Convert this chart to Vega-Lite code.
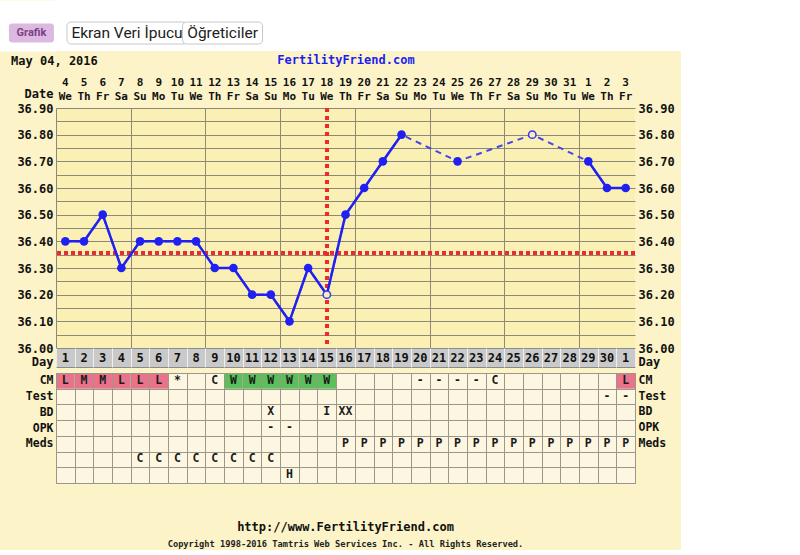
{
  "$schema": "https://vega.github.io/schema/vega-lite/v6.json",
  "background": "#fcf4c8",
  "padding": {"left": 8, "top": 0, "right": 0, "bottom": 0},
  "autosize": {"type": "pad"},
  "config": {
    "view": {"stroke": null},
    "font": "DejaVu Sans Mono",
    "axis": {"labelFont": "DejaVu Sans Mono", "titleFont": "DejaVu Sans Mono", "labelFontWeight": "bold", "titleFontWeight": "bold", "labelColor": "#111", "titleColor": "#111", "labelFontSize": 12, "titleFontSize": 12, "ticks": false, "domain": false, "labelOverlap": false, "gridOpacity": 1, "gridWidth": 1}
  },
  "datasets": {
    "days": [
      {"day": 1, "date": "4", "dow": "We", "cd": 1, "temp": 36.40, "seg": "a", "open": false},
      {"day": 2, "date": "5", "dow": "Th", "cd": 2, "temp": 36.40, "seg": "a", "open": false},
      {"day": 3, "date": "6", "dow": "Fr", "cd": 3, "temp": 36.50, "seg": "a", "open": false},
      {"day": 4, "date": "7", "dow": "Sa", "cd": 4, "temp": 36.30, "seg": "a", "open": false},
      {"day": 5, "date": "8", "dow": "Su", "cd": 5, "temp": 36.40, "seg": "a", "open": false},
      {"day": 6, "date": "9", "dow": "Mo", "cd": 6, "temp": 36.40, "seg": "a", "open": false},
      {"day": 7, "date": "10", "dow": "Tu", "cd": 7, "temp": 36.40, "seg": "a", "open": false},
      {"day": 8, "date": "11", "dow": "We", "cd": 8, "temp": 36.40, "seg": "a", "open": false},
      {"day": 9, "date": "12", "dow": "Th", "cd": 9, "temp": 36.30, "seg": "a", "open": false},
      {"day": 10, "date": "13", "dow": "Fr", "cd": 10, "temp": 36.30, "seg": "a", "open": false},
      {"day": 11, "date": "14", "dow": "Sa", "cd": 11, "temp": 36.20, "seg": "a", "open": false},
      {"day": 12, "date": "15", "dow": "Su", "cd": 12, "temp": 36.20, "seg": "a", "open": false},
      {"day": 13, "date": "16", "dow": "Mo", "cd": 13, "temp": 36.10, "seg": "a", "open": false},
      {"day": 14, "date": "17", "dow": "Tu", "cd": 14, "temp": 36.30, "seg": "a", "open": false},
      {"day": 15, "date": "18", "dow": "We", "cd": 15, "temp": 36.20, "seg": "a", "open": true},
      {"day": 16, "date": "19", "dow": "Th", "cd": 16, "temp": 36.50, "seg": "a", "open": false},
      {"day": 17, "date": "20", "dow": "Fr", "cd": 17, "temp": 36.60, "seg": "a", "open": false},
      {"day": 18, "date": "21", "dow": "Sa", "cd": 18, "temp": 36.70, "seg": "a", "open": false},
      {"day": 19, "date": "22", "dow": "Su", "cd": 19, "temp": 36.80, "seg": "a", "open": false},
      {"day": 20, "date": "23", "dow": "Mo", "cd": 20, "temp": null, "seg": null, "open": false},
      {"day": 21, "date": "24", "dow": "Tu", "cd": 21, "temp": null, "seg": null, "open": false},
      {"day": 22, "date": "25", "dow": "We", "cd": 22, "temp": 36.70, "seg": null, "open": false},
      {"day": 23, "date": "26", "dow": "Th", "cd": 23, "temp": null, "seg": null, "open": false},
      {"day": 24, "date": "27", "dow": "Fr", "cd": 24, "temp": null, "seg": null, "open": false},
      {"day": 25, "date": "28", "dow": "Sa", "cd": 25, "temp": null, "seg": null, "open": false},
      {"day": 26, "date": "29", "dow": "Su", "cd": 26, "temp": 36.80, "seg": null, "open": true},
      {"day": 27, "date": "30", "dow": "Mo", "cd": 27, "temp": null, "seg": null, "open": false},
      {"day": 28, "date": "31", "dow": "Tu", "cd": 28, "temp": null, "seg": null, "open": false},
      {"day": 29, "date": "1", "dow": "We", "cd": 29, "temp": 36.70, "seg": "b", "open": false},
      {"day": 30, "date": "2", "dow": "Th", "cd": 30, "temp": 36.60, "seg": "b", "open": false},
      {"day": 31, "date": "3", "dow": "Fr", "cd": 1, "temp": 36.60, "seg": "b", "open": false}
    ],
    "cells": [
      {"day": 1, "row": "CM", "code": "L", "kind": "menses"},
      {"day": 2, "row": "CM", "code": "M", "kind": "menses"},
      {"day": 3, "row": "CM", "code": "M", "kind": "menses"},
      {"day": 4, "row": "CM", "code": "L", "kind": "menses"},
      {"day": 5, "row": "CM", "code": "L", "kind": "menses"},
      {"day": 6, "row": "CM", "code": "L", "kind": "menses"},
      {"day": 7, "row": "CM", "code": "*", "kind": null},
      {"day": 9, "row": "CM", "code": "C", "kind": null},
      {"day": 10, "row": "CM", "code": "W", "kind": "fertile"},
      {"day": 11, "row": "CM", "code": "W", "kind": "fertile"},
      {"day": 12, "row": "CM", "code": "W", "kind": "fertile"},
      {"day": 13, "row": "CM", "code": "W", "kind": "fertile"},
      {"day": 14, "row": "CM", "code": "W", "kind": "fertile"},
      {"day": 15, "row": "CM", "code": "W", "kind": "fertile"},
      {"day": 20, "row": "CM", "code": "-", "kind": null},
      {"day": 21, "row": "CM", "code": "-", "kind": null},
      {"day": 22, "row": "CM", "code": "-", "kind": null},
      {"day": 23, "row": "CM", "code": "-", "kind": null},
      {"day": 24, "row": "CM", "code": "C", "kind": null},
      {"day": 31, "row": "CM", "code": "L", "kind": "menses"},
      {"day": 30, "row": "Test", "code": "-", "kind": null},
      {"day": 31, "row": "Test", "code": "-", "kind": null},
      {"day": 12, "row": "BD", "code": "X", "kind": null},
      {"day": 15, "row": "BD", "code": "I", "kind": null},
      {"day": 16, "row": "BD", "code": "XX", "kind": null},
      {"day": 12, "row": "OPK", "code": "-", "kind": null},
      {"day": 13, "row": "OPK", "code": "-", "kind": null},
      {"day": 16, "row": "Meds", "code": "P", "kind": null},
      {"day": 17, "row": "Meds", "code": "P", "kind": null},
      {"day": 18, "row": "Meds", "code": "P", "kind": null},
      {"day": 19, "row": "Meds", "code": "P", "kind": null},
      {"day": 20, "row": "Meds", "code": "P", "kind": null},
      {"day": 21, "row": "Meds", "code": "P", "kind": null},
      {"day": 22, "row": "Meds", "code": "P", "kind": null},
      {"day": 23, "row": "Meds", "code": "P", "kind": null},
      {"day": 24, "row": "Meds", "code": "P", "kind": null},
      {"day": 25, "row": "Meds", "code": "P", "kind": null},
      {"day": 26, "row": "Meds", "code": "P", "kind": null},
      {"day": 27, "row": "Meds", "code": "P", "kind": null},
      {"day": 28, "row": "Meds", "code": "P", "kind": null},
      {"day": 29, "row": "Meds", "code": "P", "kind": null},
      {"day": 30, "row": "Meds", "code": "P", "kind": null},
      {"day": 31, "row": "Meds", "code": "P", "kind": null},
      {"day": 5, "row": "Extra1", "code": "C", "kind": null},
      {"day": 6, "row": "Extra1", "code": "C", "kind": null},
      {"day": 7, "row": "Extra1", "code": "C", "kind": null},
      {"day": 8, "row": "Extra1", "code": "C", "kind": null},
      {"day": 9, "row": "Extra1", "code": "C", "kind": null},
      {"day": 10, "row": "Extra1", "code": "C", "kind": null},
      {"day": 11, "row": "Extra1", "code": "C", "kind": null},
      {"day": 12, "row": "Extra1", "code": "C", "kind": null},
      {"day": 13, "row": "Extra2", "code": "H", "kind": null}
    ]
  },
  "vconcat": [
    {
      "width": 625,
      "height": 51,
      "view": {"fill": "white", "stroke": null},
      "data": {"values": [{"btn": "Grafik"}, {"btn": "Ekran Veri İpucu"}, {"btn": "Öğreticiler"}]},
      "encoding": {
        "x": {"field": "btn", "type": "nominal", "sort": null, "axis": null, "scale": {"paddingInner": 0.3, "paddingOuter": 0, "range": [-58, 200]}},
        "y": {"datum": "bar", "type": "nominal", "scale": {"paddingInner": 0, "paddingOuter": 0.66, "align": 0.76}, "axis": {"orient": "left", "labels": false, "title": null, "grid": false, "domain": true, "domainColor": "white", "domainWidth": 58, "offset": 29, "zindex": 0}}
      },
      "layer": [
        {"transform": [{"filter": "datum.btn == 'Grafik'"}], "mark": {"type": "rect", "width": 45, "height": 19, "cornerRadius": 3, "fill": "#dcb9e0"}},
        {"transform": [{"filter": "datum.btn == 'Ekran Veri İpucu'"}], "mark": {"type": "rect", "width": 120, "height": 22, "cornerRadius": 4, "fill": "white", "stroke": "#c8c8c8", "strokeWidth": 1}},
        {"transform": [{"filter": "datum.btn == 'Öğreticiler'"}], "mark": {"type": "rect", "width": 80, "height": 22, "cornerRadius": 4, "fill": "white", "stroke": "#c8c8c8", "strokeWidth": 1}},
        {"transform": [{"filter": "datum.btn == 'Grafik'"}], "mark": {"type": "text", "font": "Roboto", "fontSize": 11, "fontWeight": "bold", "color": "#7b3f86"}, "encoding": {"text": {"field": "btn"}}},
        {"transform": [{"filter": "datum.btn != 'Grafik'"}], "mark": {"type": "text", "font": "Roboto", "fontSize": 15.5, "color": "#222"}, "encoding": {"text": {"field": "btn"}}}
      ]
    },
    {
      "vconcat": [
        {
          "vconcat": [
            {
              "width": 579,
              "height": 30,
              "data": {"name": "days"},
              "transform": [{"fold": ["date", "dow"], "as": ["row", "label"]}],
              "title": {"text": "May 04, 2016", "anchor": "start", "frame": "bounds", "offset": -15, "dx": -13, "font": "DejaVu Sans Mono", "fontSize": 12, "fontWeight": "bold", "color": "#111"},
              "mark": {"type": "text", "font": "DejaVu Sans Mono", "fontSize": 11, "fontWeight": "bold", "color": "#111"},
              "encoding": {
                "x": {"field": "day", "type": "ordinal", "scale": {"paddingInner": 0, "paddingOuter": 0}, "axis": {"orient": "top", "labels": false, "grid": false, "title": "FertilityFriend.com", "titleColor": "#1c1cf0", "titlePadding": 12}},
                "y": {"field": "row", "type": "nominal", "sort": ["date", "dow"], "scale": {"padding": 0.611, "align": 0.303}, "axis": {"labels": false, "grid": false, "title": "Date", "titleAngle": 0, "titleAlign": "right", "titleBaseline": "middle", "titlePadding": 3}},
                "text": {"field": "label"}
              }
            },
            {
              "width": 579,
              "height": 240,
              "view": {"fill": "#faf0b3", "stroke": null},
              "data": {"name": "days"},
              "layer": [
                {
                  "mark": {"type": "rule", "color": "#ee2a2a", "strokeWidth": 3, "strokeDash": [4, 3]},
                  "encoding": {"y": {"datum": 36.355, "type": "quantitative", "scale": {"domain": [36.0, 36.9], "nice": false, "zero": false}, "axis": {"orient": "left", "values": [36.0, 36.05, 36.1, 36.15, 36.2, 36.25, 36.3, 36.35, 36.4, 36.45, 36.5, 36.55, 36.6, 36.65, 36.7, 36.75, 36.8, 36.85, 36.9], "grid": true, "gridColor": "#8f8777", "labelExpr": "(round(datum.value*100) % 10 == 0) ? format(datum.value, '.2f') : ''", "labelPadding": 3, "title": null}}}
                },
                {
                  "mark": {"type": "rule", "color": "#ee2a2a", "strokeWidth": 3, "strokeDash": [4, 4]},
                  "encoding": {"x": {"datum": 15, "type": "quantitative", "scale": {"domain": [0.5, 31.5], "nice": false, "zero": false}, "axis": {"orient": "bottom", "values": [0.5, 1.5, 2.5, 3.5, 4.5, 5.5, 6.5, 7.5, 8.5, 9.5, 10.5, 11.5, 12.5, 13.5, 14.5, 15.5, 16.5, 17.5, 18.5, 19.5, 20.5, 21.5, 22.5, 23.5, 24.5, 25.5, 26.5, 27.5, 28.5, 29.5, 30.5, 31.5], "grid": true, "gridColor": "#8f8777", "labels": false, "title": null}}}
                },
                {
                  "transform": [{"filter": "datum.temp != null"}],
                  "mark": {"type": "line", "color": "#4646e6", "strokeWidth": 2, "strokeDash": [6, 5]},
                  "encoding": {
                    "x": {"field": "day", "type": "quantitative"},
                    "y": {"field": "temp", "type": "quantitative", "scale": {"domain": [36.0, 36.9], "nice": false, "zero": false}, "axis": {"orient": "right", "values": [36.0, 36.1, 36.2, 36.3, 36.4, 36.5, 36.6, 36.7, 36.8, 36.9], "format": ".2f", "grid": false, "labelPadding": 3, "title": null}}
                  }
                },
                {
                  "transform": [{"filter": "datum.seg != null"}],
                  "mark": {"type": "line", "color": "#2020f2", "strokeWidth": 2.5},
                  "encoding": {"x": {"field": "day", "type": "quantitative"}, "y": {"field": "temp", "type": "quantitative", "axis": null}, "detail": {"field": "seg"}}
                },
                {
                  "transform": [{"filter": "datum.temp != null && !datum.open"}],
                  "mark": {"type": "point", "filled": true, "color": "#2020f2", "size": 75, "opacity": 1},
                  "encoding": {"x": {"field": "day", "type": "quantitative"}, "y": {"field": "temp", "type": "quantitative", "axis": null}}
                },
                {
                  "transform": [{"filter": "datum.open"}],
                  "mark": {"type": "point", "filled": false, "fill": "#f8ecc8", "fillOpacity": 1, "stroke": "#3a3ae8", "strokeWidth": 1.5, "size": 55, "opacity": 1},
                  "encoding": {"x": {"field": "day", "type": "quantitative"}, "y": {"field": "temp", "type": "quantitative", "axis": null}}
                }
              ],
              "resolve": {"axis": {"y": "independent"}}
            },
            {
              "width": 579,
              "height": 19,
              "view": {"fill": "#c9c9c9", "stroke": "#8a8a8a"},
              "data": {"name": "days"},
              "encoding": {
                "x": {"field": "day", "type": "ordinal", "scale": {"paddingInner": 0, "paddingOuter": 0}, "axis": {"grid": true, "tickBand": "extent", "gridColor": "#eeeeee", "labels": false, "title": null}},
                "text": {"field": "cd"}
              },
              "layer": [
                {"mark": {"type": "text", "font": "DejaVu Sans Mono", "fontSize": 12, "fontWeight": "bold", "color": "#111"},
                 "encoding": {"y": {"datum": "Day", "type": "nominal", "axis": {"orient": "left", "title": null, "labelPadding": 3, "labelOffset": 3.5}}}},
                {"mark": {"type": "text", "font": "DejaVu Sans Mono", "fontSize": 12, "fontWeight": "bold", "color": "#111", "opacity": 0},
                 "encoding": {"y": {"datum": "Day", "type": "nominal", "axis": {"orient": "right", "title": null, "labelPadding": 3, "labelOffset": 3.5}}}}
              ],
              "resolve": {"axis": {"y": "independent"}}
            }
          ],
          "spacing": 0,
          "bounds": "flush"
        },
        {
          "width": 579,
          "height": 110,
          "view": {"fill": "#fdf6e0", "stroke": "#9d978b"},
          "data": {"name": "cells"},
          "title": {"text": "http://www.FertilityFriend.com", "subtitle": "Copyright 1998-2016 Tamtris Web Services Inc. - All Rights Reserved.", "orient": "bottom", "anchor": "middle", "offset": 39, "font": "DejaVu Sans Mono", "fontSize": 12, "fontWeight": "bold", "color": "#111", "subtitleFont": "DejaVu Sans Mono", "subtitleFontSize": 8.7, "subtitleFontWeight": "bold", "subtitleColor": "#222", "subtitlePadding": 6},
          "encoding": {
            "x": {"field": "day", "type": "ordinal", "scale": {"domain": [1, 2, 3, 4, 5, 6, 7, 8, 9, 10, 11, 12, 13, 14, 15, 16, 17, 18, 19, 20, 21, 22, 23, 24, 25, 26, 27, 28, 29, 30, 31], "paddingInner": 0, "paddingOuter": 0}, "axis": {"grid": true, "tickBand": "extent", "gridColor": "#9d978b", "labels": false, "title": null, "zindex": 1}}
          },
          "layer": [
            {
              "transform": [{"filter": "datum.kind != null"}],
              "mark": {"type": "rect"},
              "encoding": {
                "y": {"field": "row", "type": "nominal", "scale": {"domain": ["CM", "Test", "BD", "OPK", "Meds", "Extra1", "Extra2"], "paddingInner": 0, "paddingOuter": 0}, "axis": {"orient": "left", "grid": true, "tickBand": "extent", "gridColor": "#9d978b", "zindex": 1, "labelFontSize": 11.5, "labelPadding": 3, "title": null, "labelExpr": "indexof(['Extra1','Extra2'], datum.value) >= 0 ? '' : datum.value"}},
                "color": {"field": "kind", "type": "nominal", "scale": {"domain": ["menses", "fertile"], "range": ["#e9738b", "#5cbf5c"]}, "legend": null}
              }
            },
            {
              "mark": {"type": "text", "font": "DejaVu Sans Mono", "fontSize": 11.5, "fontWeight": "bold", "color": "#1a1a1a"},
              "encoding": {
                "y": {"field": "row", "type": "nominal", "scale": {"domain": ["CM", "Test", "BD", "OPK", "Meds", "Extra1", "Extra2"], "paddingInner": 0, "paddingOuter": 0}, "axis": {"orient": "right", "grid": false, "labelFontSize": 11.5, "labelPadding": 3, "title": null, "labelExpr": "indexof(['Extra1','Extra2'], datum.value) >= 0 ? '' : datum.value"}},
                "text": {"field": "code"}
              }
            }
          ],
          "resolve": {"axis": {"y": "independent"}}
        }
      ],
      "spacing": -2,
      "bounds": "full"
    }
  ],
  "spacing": 2
}
